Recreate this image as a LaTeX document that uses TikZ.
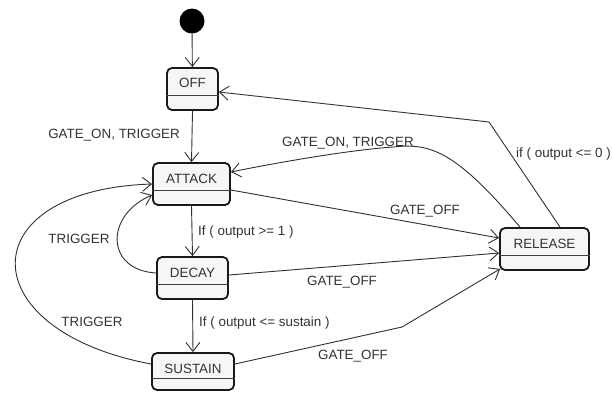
\documentclass[tikz,border=0pt]{standalone}
\usepackage{fontspec}
\setmainfont{Liberation Sans}
\usetikzlibrary{arrows.meta}
\definecolor{txt}{HTML}{333333}
\definecolor{ln}{HTML}{303030}
\definecolor{boxfill}{HTML}{F6F6F6}
\tikzset{
  statebox/.style={draw=black!90, line width=1.8bp, rounded corners=5bp, fill=boxfill, inner sep=0pt},
  stext/.style={text=txt, inner sep=0pt, text height=9.6bp, text depth=0pt},
  lbl/.style={text=txt, inner sep=0pt, text height=9.6bp, text depth=0pt},
  divider/.style={draw=black!75, line width=0.9bp},
  tr/.style={draw=ln, line width=0.9bp, -{Straight Barb[length=9bp,width=14bp,line width=0.9bp]}},
}
\begin{document}
\begin{tikzpicture}[x=1bp, y=-1bp, font=\fontsize{13.4bp}{16bp}\selectfont]
\useasboundingbox (0,0) rectangle (612,392);
\fill[white] (0,0) rectangle (612,392);

% initial state
\node[circle, fill=black, minimum size=25bp, inner sep=0pt] (init) at (192,21) {};

% states
\node[statebox, minimum width=51bp, minimum height=42bp] (off) at (192.5,89) {};
\node[statebox, minimum width=77bp, minimum height=42bp] (attack) at (191.5,184) {};
\node[statebox, minimum width=71bp, minimum height=42bp] (decay) at (192.5,278) {};
\node[statebox, minimum width=82bp, minimum height=37bp] (sustain) at (193,371.5) {};
\node[statebox, minimum width=89bp, minimum height=42bp] (release) at (544.5,249) {};

\node[stext] (offt) at (192.5,83) {OFF};
\node[stext] (attackt) at (191.5,179) {ATTACK};
\node[stext] (decayt) at (192.5,273) {DECAY};
\node[stext] (sustaint) at (193,369) {SUSTAIN};
\node[stext] (releaset) at (544.5,244) {RELEASE};

\foreach \s in {off,attack,decay,release}{
  \draw[divider] ([yshift=-28bp]\s.north west) -- ([yshift=-28bp]\s.north east);
}
\draw[divider] ([yshift=-26bp]sustain.north west) -- ([yshift=-26bp]sustain.north east);

% transitions
\draw[tr] (init) -- (off);
\draw[tr] (off.south) -- (attack.north);
\node[lbl, anchor=east] (l1) at (180,134) {GATE\_ON, TRIGGER};

\draw[tr] (attack.south) -- (decay.north);
\node[lbl, anchor=west] (l2) at (198,231) {If ( output >= 1 )};

\draw[tr] (decay.south) -- (sustain.north);
\node[lbl, anchor=west] (l3) at (199,322) {If ( output <= sustain )};

\draw[tr] ([yshift=5bp]decay.west) .. controls (105,270) and (105,215) .. ([yshift=-11bp]attack.west);
\node[lbl] (l4) at (79,239) {TRIGGER};

\draw[tr] ([yshift=7.5bp]sustain.west) .. controls (-30,330) and (-30,190) .. (attack.west);
\node[lbl] (l5) at (92,322) {TRIGGER};

\draw[tr] ([yshift=-6bp]attack.east) -- ([yshift=11bp]release.west);
\node[lbl] (l6) at (425,210) {GATE\_OFF};

\draw[tr] ([yshift=3bp]decay.east) -- ([yshift=-4bp]release.west);
\node[lbl] (l7) at (342,281) {GATE\_OFF};

\draw[tr] ([yshift=7.5bp]sustain.east) -- (402,327) -- ([xshift=1bp,yshift=2bp]release.south west);
\node[lbl] (l8) at (353,355) {GATE\_OFF};

\draw[tr] ([xshift=15.5bp]release.north) -- (489,122) -- ([yshift=-3bp]off.east);
\node[lbl, anchor=west] (l9) at (516,153) {if ( output <= 0 )};

\draw[tr] ([xshift=-24.5bp]release.north) .. controls (455,150) and (430,143) .. (393,147) .. controls (350,150) and (280,162) .. ([yshift=12bp]attack.east);
\node[lbl] (l10) at (348,142) {GATE\_ON, TRIGGER};
\end{tikzpicture}
\end{document}
